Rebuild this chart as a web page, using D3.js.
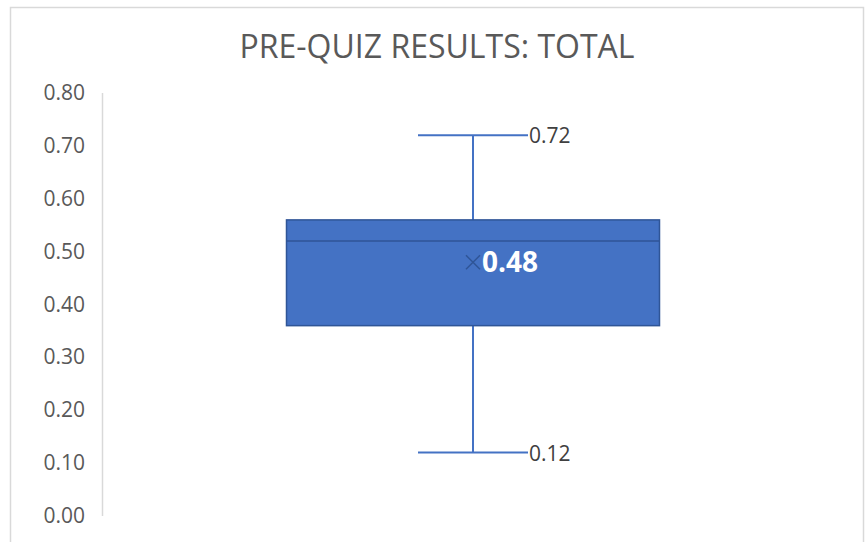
<!DOCTYPE html>
<html>
<head>
<meta charset="utf-8">
<script src="https://cdn.jsdelivr.net/npm/d3@7"></script>
<style>
body{margin:0;background:#fff;}
svg{display:block;font-family:"Open Sans","Noto Sans",sans-serif;}
</style>
</head>
<body>
<svg id="chart" width="867" height="542"></svg>
<script>
// valeurs
var title = "PRE-QUIZ RESULTS: TOTAL";
var categories = ["Total"];
var minValues = [0.12];
var q1Values = [0.36];
var medianValues = [0.52];
var q3Values = [0.56];
var maxValues = [0.72];
var meanValues = [0.48];
var yTicks = [0, 0.1, 0.2, 0.3, 0.4, 0.5, 0.6, 0.7, 0.8];

var svg = d3.select("#chart");
var blue = "#4472c4", dark = "#2f5597";

// cadre du graphique
svg.append("rect").attr("x",10.5).attr("y",7.5).attr("width",853).attr("height",560)
    .style("fill","#fff").style("stroke","#d9d9d9").style("stroke-width",1.5);

svg.append("text").attr("x",437).attr("y",58).attr("text-anchor","middle")
    .style("font-size","32px").style("fill","#595959").text(title);

var y = d3.scaleLinear().domain([0,0.8]).range([516,93]);
var x = d3.scaleBand().domain(categories).range([100,846]).paddingInner(0).paddingOuter(0.5);

// axe vertical
svg.append("line").attr("x1",102.5).attr("x2",102.5).attr("y1",y(0.8)).attr("y2",y(0))
    .style("stroke","#d9d9d9").style("stroke-width",1.5);
svg.selectAll(".tick").data(yTicks).enter().append("text")
    .attr("x",85).attr("y",function(d){return y(d)+7;}).attr("text-anchor","end")
    .style("font-size","21px").style("fill","#595959").text(d3.format(".2f"));

var g = svg.selectAll(".box").data(categories).enter().append("g");
g.each(function(c,i){
    var s = d3.select(this);
    var x0 = x(c), w = x.bandwidth(), cx = x0 + w/2;
    // moustaches
    s.append("line").attr("x1",cx).attr("x2",cx).attr("y1",y(maxValues[i])).attr("y2",y(q3Values[i])).style("stroke",blue).style("stroke-width",2);
    s.append("line").attr("x1",cx).attr("x2",cx).attr("y1",y(q1Values[i])).attr("y2",y(minValues[i])).style("stroke",blue).style("stroke-width",2);
    s.append("line").attr("x1",cx-55).attr("x2",cx+55).attr("y1",y(maxValues[i])).attr("y2",y(maxValues[i])).style("stroke",blue).style("stroke-width",2);
    s.append("line").attr("x1",cx-55).attr("x2",cx+55).attr("y1",y(minValues[i])).attr("y2",y(minValues[i])).style("stroke",blue).style("stroke-width",2);
    // boite
    s.append("rect").attr("x",x0).attr("y",y(q3Values[i])).attr("width",w).attr("height",y(q1Values[i])-y(q3Values[i]))
        .style("fill",blue).style("stroke",dark).style("stroke-width",1.5);
    s.append("line").attr("x1",x0).attr("x2",x0+w).attr("y1",y(medianValues[i])).attr("y2",y(medianValues[i])).style("stroke",dark).style("stroke-width",1.5);
    // moyenne
    var my = y(meanValues[i]);
    s.append("path").attr("d","M"+(cx-7)+","+(my-7)+"L"+(cx+7)+","+(my+7)+"M"+(cx-7)+","+(my+7)+"L"+(cx+7)+","+(my-7))
        .style("stroke",dark).style("stroke-width",1.5);
    s.append("text").attr("x",cx+9).attr("y",my+10).style("font-size","28px").style("font-weight","bold").style("fill","#fff").text(d3.format(".2f")(meanValues[i]));
    // etiquettes
    s.append("text").attr("x",cx+56).attr("y",y(maxValues[i])+8).style("font-size","21px").style("fill","#404040").text(d3.format(".2f")(maxValues[i]));
    s.append("text").attr("x",cx+56).attr("y",y(minValues[i])+8).style("font-size","21px").style("fill","#404040").text(d3.format(".2f")(minValues[i]));
});
</script>
</body>
</html>
